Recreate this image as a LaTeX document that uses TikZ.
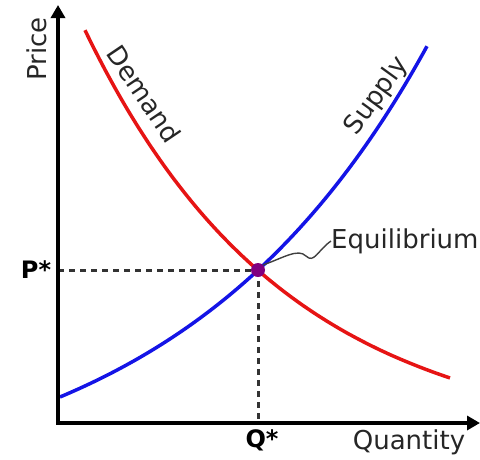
\documentclass[tikz,border=0pt]{standalone}
\usepackage{fontspec}
\setmainfont{DejaVu Sans}
\usetikzlibrary{arrows.meta}
\definecolor{demandred}{RGB}{230,20,20}
\definecolor{supplyblue}{RGB}{20,20,230}
\definecolor{eqpurple}{RGB}{128,0,128}
\tikzset{
  axisline/.style={line width=4pt,-{Triangle[length=13pt,width=14pt]}},
  curveline/.style={line width=3.5pt},
  guide/.style={line width=3pt,dash pattern=on 6pt off 5pt,black!80},
  lbl/.style={font=\fontsize{26}{30}\selectfont,inner sep=0pt,text=black!85},
  blbl/.style={font=\fontsize{24}{28}\selectfont\bfseries,inner sep=0pt}
}
\begin{document}
\begin{tikzpicture}[x=1pt,y=-1pt]
\useasboundingbox (0,0) rectangle (480,459);
\coordinate (O) at (58,423);
\coordinate (ytip) at (58,5);
\coordinate (xtip) at (480,423);
\coordinate (E) at (258,270);
\coordinate (Py) at (58,270);
\coordinate (Qx) at (258,423);
% curves
\draw[curveline,demandred] plot[domain=85:450,samples=90,smooth] (\x,{444.6-634*exp(-0.005*\x)});
\draw[curveline,supplyblue] plot[domain=60:427,samples=90,smooth] (\x,{502.1-82.7*exp(0.004*\x)});
% guides
\draw[guide] (Py) -- (E);
\draw[guide] (E) -- (Qx);
% axes
\draw[axisline] ([yshift=2pt]O) -- (ytip);
\draw[axisline] ([xshift=-2pt]O) -- (xtip);
% equilibrium
\node[circle,fill=eqpurple,inner sep=0pt,minimum size=14pt] (eq) at (E) {};
\node[lbl,anchor=west] (eqlbl) at (331,241) {Equilibrium};
\draw[line width=1.4pt,black!75] (eq.north east) .. controls (283,258) and (298,248) .. (306,256) .. controls (314,264) and (318,250) .. (eqlbl.west);
% labels
\node[lbl,rotate=90] (price) at (37,49) {Price};
\node[lbl] (qty) at (409,442) {Quantity};
\node[blbl] (pstar) at (36,270) {P*};
\node[blbl] (qstar) at (262,440) {Q*};
\node[lbl,rotate=-56] (dlbl) at (144,94) {Demand};
\node[lbl,rotate=54] (slbl) at (377,96) {Supply};
\end{tikzpicture}
\end{document}
